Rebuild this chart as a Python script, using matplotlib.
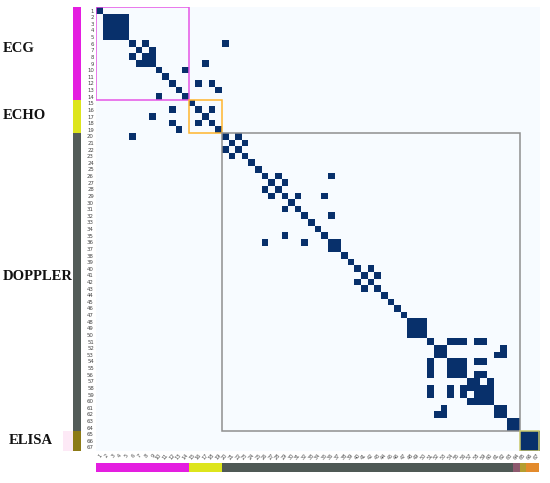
import numpy as np
import matplotlib
matplotlib.use("Agg")
import matplotlib.pyplot as plt
from matplotlib.patches import Rectangle

# ---------------- data ----------------
n_nodes = 67
node_labels = [str(i) for i in range(1, n_nodes + 1)]

group_names = ["ECG", "ECHO", "DOPPLER", "ELISA"]
group_ranges = [(1, 14), (15, 19), (20, 64), (65, 67)]
group_colors = ["#e41ee0", "#dde51c", "#535c58", "#8c7a16"]
box_colors = ["#e655e6", "#ffb52e", "#8f8f8f", "#c9c76a"]

bottom_bar_ranges = [(1, 14), (15, 19), (20, 63), (64, 64), (65, 65), (66, 67)]
bottom_bar_colors = ["#e41ee0", "#dde51c", "#4f5955", "#8e5a6e", "#b49e30", "#e38b2c"]

# neighbours of each node (1-based), matrix is symmetric
neighbors = {
    1: [1],
    2: [2, 3, 4, 5], 3: [2, 3, 4, 5], 4: [2, 3, 4, 5], 5: [2, 3, 4, 5],
    6: [6, 8, 20], 7: [7, 9], 8: [6, 8, 9], 9: [7, 8, 9, 17],
    10: [10, 14], 11: [11], 12: [12, 16, 18], 13: [13, 19], 14: [10, 14],
    15: [15], 16: [12, 16, 18], 17: [9, 17], 18: [12, 16, 18], 19: [13, 19],
    20: [6, 20, 22], 21: [21, 23], 22: [20, 22], 23: [21, 23],
    24: [24], 25: [25], 26: [26, 28, 36], 27: [27, 29], 28: [26, 28],
    29: [27, 29, 31, 35], 30: [30], 31: [29, 31], 32: [32, 36],
    33: [33], 34: [34], 35: [29, 35], 36: [26, 32, 36, 37], 37: [36, 37],
    38: [38], 39: [39], 40: [40, 42], 41: [41, 43], 42: [40, 42], 43: [41, 43],
    44: [44], 45: [45], 46: [46], 47: [47],
    48: [48, 49, 50], 49: [48, 49, 50], 50: [48, 49, 50],
    51: [51, 54, 55, 56, 58, 59], 52: [52, 53, 62], 53: [52, 53, 61, 62],
    54: [51, 54, 55, 56, 58, 59], 55: [51, 54, 55, 56], 56: [51, 54, 55, 56, 58, 59],
    57: [57, 58, 60], 58: [51, 54, 56, 57, 58, 59, 60], 59: [51, 54, 56, 58, 59, 60],
    60: [57, 58, 59, 60], 61: [53, 61, 62], 62: [52, 53, 61, 62],
    63: [63, 64], 64: [63, 64],
    65: [65, 66, 67], 66: [65, 66, 67], 67: [65, 66, 67],
}

# ---------------- build matrix ----------------
M = np.zeros((n_nodes, n_nodes))
for r, cols in neighbors.items():
    for c in cols:
        M[r - 1, c - 1] = 1
        M[c - 1, r - 1] = 1

W, H = 550, 483
fig = plt.figure(figsize=(W / 100, H / 100), dpi=100)

left, right, top, bottom = 96, 539.5, 7.3, 450.8
ax = fig.add_axes([left / W, 1 - bottom / H, (right - left) / W, (bottom - top) / H])
ax.imshow(M, cmap="Blues", vmin=0, vmax=1, aspect="auto", interpolation="nearest")
ax.set_xticks(range(n_nodes))
ax.set_yticks(range(n_nodes))
ax.set_xticklabels(node_labels, fontsize=3.6, rotation=50, color="#444444",
                   ha="right", rotation_mode="anchor")
ax.set_yticklabels(node_labels, fontsize=3.9, color="#444444")
ax.tick_params(length=0, pad=1.5)
for s in ax.spines.values():
    s.set_visible(False)

for (a, b), col in zip(group_ranges, box_colors):
    ax.add_patch(Rectangle((a - 1.5, a - 1.5), b - a + 1, b - a + 1,
                           fill=False, edgecolor=col, linewidth=1.1, zorder=5))

# left group bar
axl = fig.add_axes([73 / W, 1 - bottom / H, 8 / W, (bottom - top) / H])
for (a, b), col in zip(group_ranges, group_colors):
    axl.add_patch(Rectangle((0, a - 1.5), 1, b - a + 1, color=col, linewidth=0))
axl.set_xlim(0, 1)
axl.set_ylim(n_nodes - 0.5, -0.5)
axl.axis("off")

# faint pink patch next to ELISA
axp = fig.add_axes([63 / W, 1 - bottom / H, 10 / W, (bottom - top) / H])
a, b = group_ranges[3]
axp.add_patch(Rectangle((0, a - 1.5), 1, b - a + 1, color="#fde9f6", linewidth=0))
axp.set_xlim(0, 1)
axp.set_ylim(n_nodes - 0.5, -0.5)
axp.axis("off")

# bottom group bar
axb = fig.add_axes([left / W, 1 - 471.7 / H, (right - left) / W, 8.4 / H])
for (a, b), col in zip(bottom_bar_ranges, bottom_bar_colors):
    axb.add_patch(Rectangle((a - 1.5, 0), b - a + 1, 1, color=col, linewidth=0))
axb.set_xlim(-0.5, n_nodes - 0.5)
axb.set_ylim(0, 1)
axb.axis("off")

# group labels
label_pos = [(3, 48), (3, 115.5), (3, 276), (9, 441)]
for name, (x, y) in zip(group_names, label_pos):
    fig.text(x / W, 1 - y / H, name, fontsize=10.5, fontweight="bold",
             family="Liberation Serif", ha="left", va="center", color="#111111")

fig.savefig("out.png", dpi=100)
